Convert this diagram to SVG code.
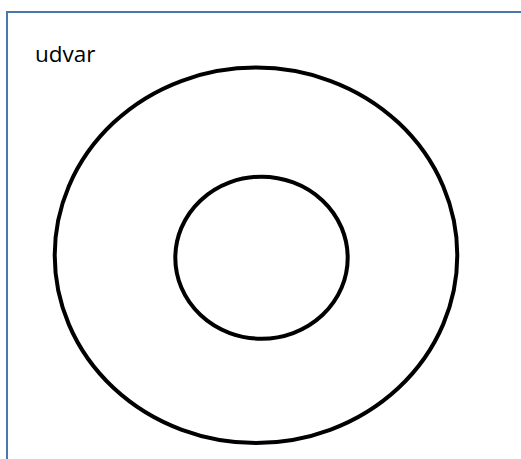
<svg xmlns="http://www.w3.org/2000/svg" width="521" height="459" viewBox="0 0 521 459">
<style>
.frame{fill:#ffffff;stroke:#4a78ac;stroke-width:2}
.ring{fill:none;stroke:#000000;stroke-width:4}
.lbl{font-family:"Open Sans","Liberation Sans",Arial,sans-serif;font-size:22.5px;fill:#000000}
</style>
<rect x="0" y="0" width="521" height="459" fill="#ffffff"/>
<g id="frame">
<rect class="frame" x="7" y="12" width="530" height="460"/>
<text class="lbl" x="35" y="61.5">udvar</text>
</g>
<g id="outer">
<ellipse class="ring" cx="256" cy="255.3" rx="201.3" ry="187.7"/>
</g>
<g id="inner">
<ellipse class="ring" cx="261.5" cy="257.7" rx="86.2" ry="81"/>
</g>
<g id="connectors"></g>
</svg>
